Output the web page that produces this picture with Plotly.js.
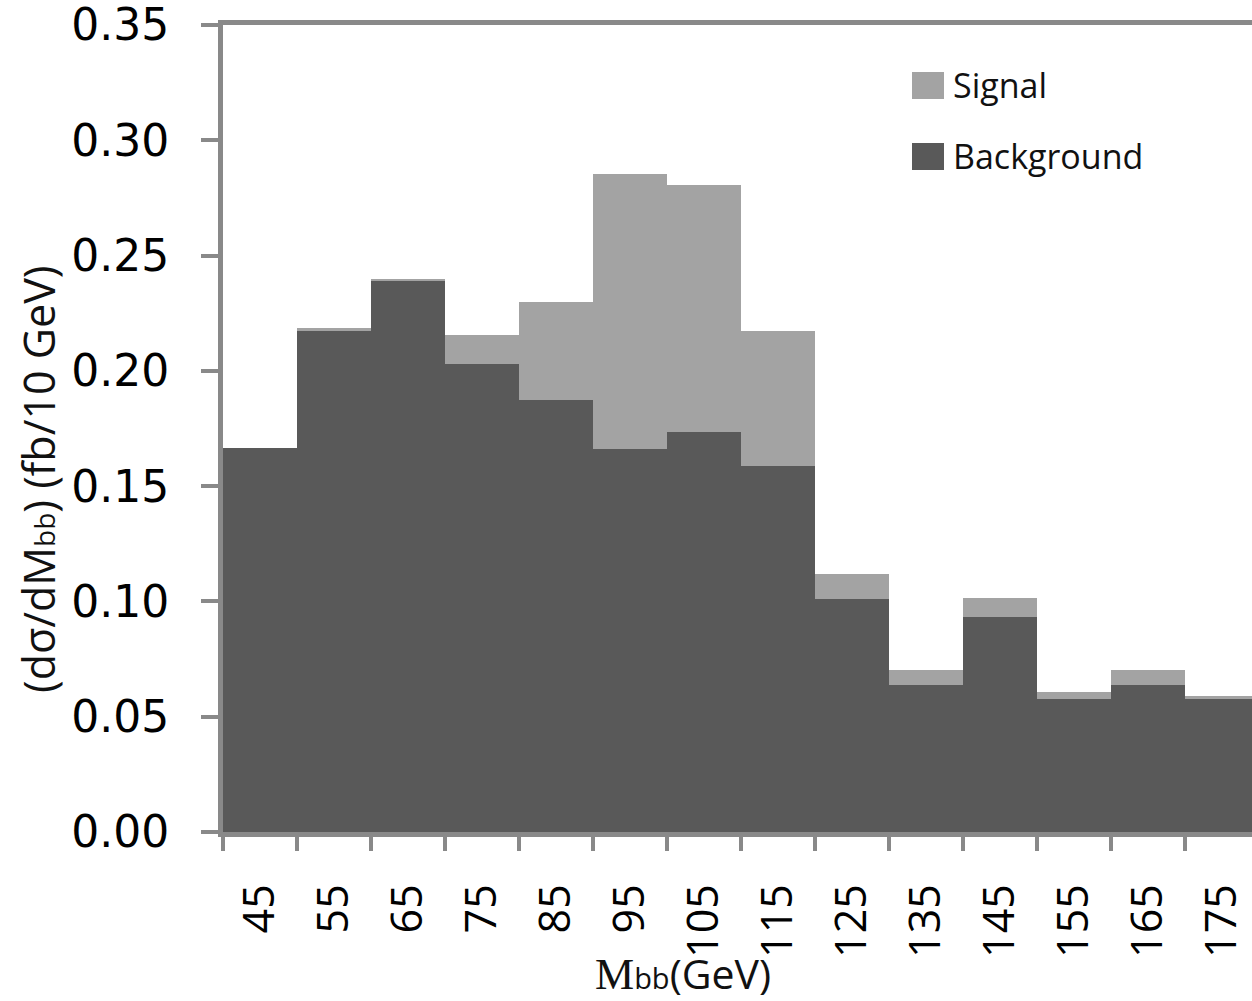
<!DOCTYPE html>
<html>
<head>
<meta charset="utf-8">
<script src="https://cdn.plot.ly/plotly-3.0.1.min.js"></script>
<style>html,body{margin:0;padding:0;background:#fff;}</style>
</head>
<body>
<div id="chart" style="width:1252px;height:1001px;"></div>
<script>
// ---- data ----
const categories = ['45','55','65','75','85','95','105','115','125','135','145','155','165','175'];
const background = [0.1664, 0.2172, 0.2388, 0.2030, 0.1875, 0.1660, 0.1737, 0.1586, 0.1009, 0.0638, 0.0931, 0.0578, 0.0638, 0.0578];
const signal     = [0.0000, 0.0013, 0.0012, 0.0125, 0.0422, 0.1193, 0.1069, 0.0586, 0.0112, 0.0065, 0.0082, 0.0030, 0.0065, 0.0013];
const seriesNames = ['Background', 'Signal'];
const yTickVals = [0, 0.05, 0.10, 0.15, 0.20, 0.25, 0.30, 0.35];
const xTitle = '<span style="font-family:\'Liberation Serif\',serif;font-size:44px">M</span><span style="font-size:29px">bb</span>(GeV)';
const yTitle = '(dσ/dM<span style="font-size:28px">bb</span>) (fb/10 GeV)';

// ---- layout constants ----
const W = 1252, H = 1001;
const L = 223, T = 25, B = 832;           // plot area pixel edges
const catPx = 74;                         // pixel width of one category
const darkCol = '#595959', lightCol = '#a3a3a3', axisCol = '#898989';
const px2x = p => (p - L) / (W - L);
const px2y = p => (B - p) / (B - T);

const traces = [
  {type:'bar', x:categories, y:background, name:seriesNames[0],
   marker:{color:darkCol, line:{width:0}}, showlegend:false},
  {type:'bar', x:categories, y:signal, name:seriesNames[1],
   marker:{color:lightCol, line:{width:0}}, showlegend:false}
];

const legendItems = [
  {name:seriesNames[1], color:lightCol, top:72},
  {name:seriesNames[0], color:darkCol, top:143}
];

const shapes = legendItems.map(it => ({
  type:'rect', xref:'paper', yref:'paper',
  x0:px2x(912), x1:px2x(944), y0:px2y(it.top), y1:px2y(it.top+27),
  fillcolor:it.color, line:{width:0}
}));

const annotations = legendItems.map(it => ({
  xref:'paper', yref:'paper', x:px2x(951), y:px2y(it.top+13),
  xanchor:'left', yanchor:'middle', showarrow:false, text:it.name,
  font:{family:'Open Sans', size:34, color:'#111'}
}));
annotations.push({
  xref:'paper', yref:'paper', x:px2x(683), y:px2y(973),
  xanchor:'center', yanchor:'middle', showarrow:false, text:xTitle,
  font:{family:'Open Sans', size:41, color:'#111'}
});
annotations.push({
  xref:'paper', yref:'paper', x:px2x(38), y:px2y(480),
  xanchor:'center', yanchor:'middle', showarrow:false, text:yTitle, textangle:-90,
  font:{family:'Open Sans', size:43, color:'#111'}
});

const layout = {
  width:W, height:H,
  margin:{l:L, r:0, t:T, b:H-B, pad:0},
  paper_bgcolor:'#fff', plot_bgcolor:'#fff',
  barmode:'stack', bargap:0,
  showlegend:false,
  xaxis:{
    type:'category', range:[-0.5, -0.5 + (W - L)/catPx],
    tickson:'boundaries', ticks:'outside', ticklen:14, tickwidth:4, tickcolor:axisCol,
    showline:true, linecolor:axisCol, linewidth:5, mirror:true,
    showgrid:false, zeroline:false,
    tickangle:-90, ticklabelstandoff:30,
    tickfont:{family:'Liberation Sans Narrow, Open Sans', size:43, color:'#000'}
  },
  yaxis:{
    range:[0, 0.35001], tickvals:yTickVals, tickformat:'.2f',
    ticks:'outside', ticklen:17, tickwidth:4, tickcolor:axisCol,
    showline:true, linecolor:axisCol, linewidth:5,
    showgrid:false, zeroline:false, ticklabelstandoff:23, ticklabeloverflow:'allow',
    tickfont:{family:'DejaVu Sans', size:44, color:'#000'}
  },
  shapes:shapes,
  annotations:annotations
};

Plotly.newPlot('chart', traces, layout, {staticPlot:true, displayModeBar:false});
</script>
</body>
</html>
